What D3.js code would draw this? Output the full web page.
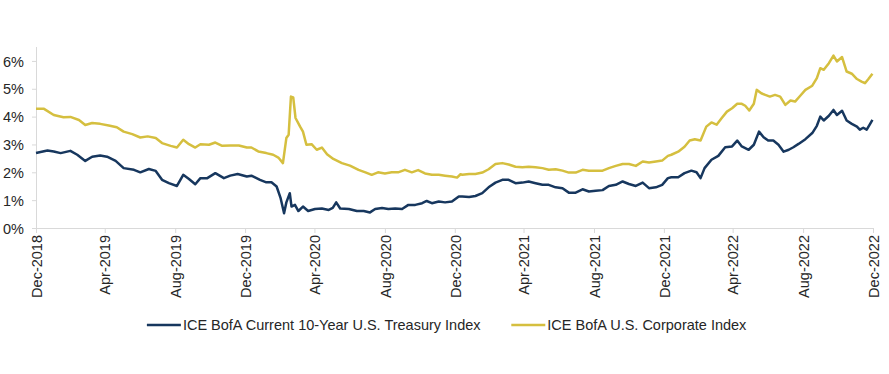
<!DOCTYPE html>
<html>
<head>
<meta charset="utf-8">
<script src="https://cdn.jsdelivr.net/npm/d3@7"></script>
<style>
  body { margin: 0; background: #fff; }
  svg { display: block; font-family: Arial, "Liberation Sans", sans-serif; }
  .axis-line { stroke: #d9d9d9; }
  .tick-label { fill: #262626; font-size: 14.5px; }
  .legend-text { fill: #262626; font-size: 14.5px; }
</style>
</head>
<body>
<svg id="chart" width="889" height="374"></svg>
<script>
// ICE BofA Current 10-Year U.S. Treasury Index (yield, %)
var treasuryDates = [
  '2018-12-31','2019-01-20','2019-01-31','2019-02-12','2019-03-01','2019-03-13','2019-03-27','2019-04-08',
  '2019-04-22','2019-05-04','2019-05-19','2019-06-02','2019-06-20','2019-07-01','2019-07-16','2019-07-28',
  '2019-08-08','2019-08-20','2019-09-03','2019-09-14','2019-09-24','2019-10-05','2019-10-14','2019-10-26',
  '2019-11-09','2019-11-24','2019-12-05','2019-12-18','2020-01-03','2020-01-11','2020-01-26','2020-02-06',
  '2020-02-15','2020-02-24','2020-03-02','2020-03-08','2020-03-12','2020-03-18','2020-03-21','2020-03-27',
  '2020-04-02','2020-04-10','2020-04-19','2020-05-01','2020-05-13','2020-05-25','2020-06-01','2020-06-07',
  '2020-06-14','2020-06-29','2020-07-13','2020-07-25','2020-08-05','2020-08-14','2020-08-26','2020-09-06',
  '2020-09-18','2020-09-30','2020-10-11','2020-10-23','2020-11-04','2020-11-12','2020-11-21','2020-12-03',
  '2020-12-14','2020-12-26','2021-01-07','2021-01-13','2021-01-25','2021-02-05','2021-02-17','2021-02-28',
  '2021-03-12','2021-03-24','2021-04-04','2021-04-16','2021-04-28','2021-05-09','2021-05-21','2021-06-02',
  '2021-06-13','2021-06-25','2021-07-07','2021-07-18','2021-07-30','2021-08-11','2021-08-22','2021-09-03',
  '2021-09-15','2021-09-26','2021-10-08','2021-10-20','2021-10-31','2021-11-12','2021-11-24','2021-12-05',
  '2021-12-17','2021-12-28','2022-01-07','2022-01-13','2022-01-25','2022-02-05','2022-02-17','2022-02-26',
  '2022-03-05','2022-03-12','2022-03-24','2022-04-05','2022-04-17','2022-04-29','2022-05-08','2022-05-16',
  '2022-05-28','2022-06-06','2022-06-15','2022-06-23','2022-07-01','2022-07-10','2022-07-19','2022-07-28',
  '2022-08-06','2022-08-14','2022-08-23','2022-09-04','2022-09-16','2022-09-24','2022-09-30','2022-10-06',
  '2022-10-15','2022-10-23','2022-10-29','2022-11-07','2022-11-15','2022-11-24','2022-12-03','2022-12-08',
  '2022-12-14','2022-12-20','2022-12-26','2022-12-30'
];
var treasuryYields = [
  2.69,2.78,2.75,2.69,2.77,2.63,2.41,2.56,
  2.60,2.56,2.41,2.15,2.09,2.00,2.12,2.05,
  1.73,1.61,1.51,1.91,1.76,1.57,1.79,1.79,
  1.97,1.79,1.88,1.94,1.85,1.88,1.73,1.64,
  1.64,1.49,1.07,0.53,0.92,1.25,0.77,0.83,
  0.61,0.77,0.61,0.68,0.70,0.65,0.72,0.92,
  0.70,0.68,0.61,0.61,0.56,0.68,0.72,0.68,
  0.70,0.68,0.83,0.83,0.89,0.97,0.89,0.95,
  0.92,0.95,1.13,1.13,1.11,1.15,1.25,1.46,
  1.63,1.73,1.73,1.61,1.63,1.67,1.61,1.55,
  1.55,1.46,1.43,1.27,1.27,1.39,1.31,1.34,
  1.36,1.51,1.55,1.67,1.58,1.51,1.63,1.43,
  1.46,1.55,1.79,1.82,1.82,1.97,2.06,2.00,
  1.79,2.15,2.45,2.59,2.90,2.93,3.14,2.93,
  2.81,2.99,3.46,3.26,3.14,3.14,2.99,2.74,
  2.81,2.90,3.02,3.19,3.41,3.67,4.00,3.86,
  4.03,4.24,4.06,4.21,3.86,3.74,3.64,3.53,
  3.60,3.53,3.74,3.88
];

// ICE BofA U.S. Corporate Index (yield, %)
var corporateDates = [
  '2018-12-31','2019-01-14','2019-01-31','2019-02-17','2019-03-01','2019-03-16','2019-03-27','2019-04-08',
  '2019-04-22','2019-05-07','2019-05-21','2019-06-02','2019-06-17','2019-07-01','2019-07-14','2019-07-28',
  '2019-08-08','2019-08-23','2019-09-03','2019-09-14','2019-09-24','2019-10-05','2019-10-14','2019-10-29',
  '2019-11-09','2019-11-21','2019-12-05','2019-12-20','2020-01-03','2020-01-11','2020-01-23','2020-02-06',
  '2020-02-18','2020-02-27','2020-03-06','2020-03-12','2020-03-16','2020-03-20','2020-03-24','2020-03-28',
  '2020-04-05','2020-04-10','2020-04-16','2020-04-25','2020-05-04','2020-05-13','2020-05-22','2020-06-02',
  '2020-06-17','2020-07-01','2020-07-16','2020-07-28','2020-08-08','2020-08-19','2020-08-31','2020-09-12',
  '2020-09-23','2020-10-05','2020-10-17','2020-10-28','2020-11-09','2020-11-21','2020-12-03','2020-12-14',
  '2020-12-26','2021-01-04','2021-01-10','2021-01-13','2021-01-25','2021-02-05','2021-02-17','2021-02-28',
  '2021-03-12','2021-03-24','2021-04-04','2021-04-16','2021-04-28','2021-05-09','2021-05-21','2021-06-02',
  '2021-06-13','2021-06-25','2021-07-07','2021-07-18','2021-07-30','2021-08-11','2021-08-22','2021-09-03',
  '2021-09-15','2021-09-26','2021-10-08','2021-10-20','2021-10-31','2021-11-12','2021-11-24','2021-12-05',
  '2021-12-17','2021-12-28','2022-01-07','2022-01-13','2022-01-25','2022-02-05','2022-02-14','2022-02-23',
  '2022-03-05','2022-03-15','2022-03-24','2022-04-02','2022-04-11','2022-04-20','2022-04-29','2022-05-08',
  '2022-05-16','2022-05-22','2022-05-29','2022-06-06','2022-06-11','2022-06-19','2022-06-26','2022-07-04',
  '2022-07-13','2022-07-22','2022-07-31','2022-08-09','2022-08-17','2022-08-26','2022-09-04','2022-09-16',
  '2022-09-24','2022-09-30','2022-10-06','2022-10-15','2022-10-23','2022-10-29','2022-11-07','2022-11-15',
  '2022-11-24','2022-12-03','2022-12-11','2022-12-17','2022-12-23','2022-12-30'
];
var corporateYields = [
  4.28,4.28,4.06,3.98,3.99,3.88,3.70,3.77,
  3.74,3.68,3.62,3.46,3.37,3.25,3.29,3.23,
  3.05,2.95,2.89,3.17,3.01,2.89,3.01,2.99,
  3.07,2.95,2.96,2.96,2.89,2.89,2.75,2.69,
  2.63,2.53,2.33,3.23,3.35,4.72,4.69,3.95,
  3.64,3.46,2.99,3.01,2.81,2.89,2.65,2.48,
  2.33,2.24,2.09,2.00,1.91,2.00,1.96,2.00,
  2.00,2.09,2.00,2.08,1.96,1.91,1.91,1.88,
  1.85,1.81,1.93,1.91,1.94,1.94,1.99,2.11,
  2.30,2.33,2.28,2.20,2.18,2.20,2.18,2.15,
  2.09,2.11,2.06,1.99,1.99,2.09,2.06,2.06,
  2.06,2.15,2.23,2.30,2.30,2.23,2.39,2.35,
  2.39,2.42,2.59,2.63,2.74,2.92,3.14,3.19,
  3.14,3.64,3.79,3.71,3.95,4.18,4.30,4.46,
  4.46,4.39,4.22,4.46,4.96,4.84,4.78,4.72,
  4.78,4.72,4.42,4.58,4.54,4.75,4.96,5.11,
  5.38,5.74,5.68,5.92,6.19,5.98,6.14,5.62,
  5.54,5.35,5.26,5.20,5.35,5.54
];

var yTicks = [0, 1, 2, 3, 4, 5, 6];
var seriesNames = ['ICE BofA Current 10-Year U.S. Treasury Index', 'ICE BofA U.S. Corporate Index'];
var seriesColors = ['#17375e', '#d5bf3f'];

(function() {
    var parseDate = d3.timeParse('%Y-%m-%d');

    function toPoints(dates, values) {
        return dates.map(function(d, i) { return { date: parseDate(d), value: values[i] }; });
    }

    var series = [
        { name: seriesNames[0], color: seriesColors[0], points: toPoints(treasuryDates, treasuryYields) },
        { name: seriesNames[1], color: seriesColors[1], points: toPoints(corporateDates, corporateYields) }
    ];

    var svg = d3.select('#chart');

    var plotLeft = 36, plotRight = 873, plotTop = 47, plotBottom = 228;

    var start = parseDate('2018-12-31'), end = parseDate('2022-12-31');
    var x = d3.scaleTime().domain([start, end]).range([plotLeft, plotRight]);
    var y = d3.scaleLinear().domain([0, 6.5]).range([plotBottom, plotTop]);

    // month-end ticks every 4 months
    var xTicks = d3.range(13).map(function(i) {
        return d3.timeDay.offset(d3.timeMonth.offset(new Date(2019, 0, 1), 4 * i), -1);
    });
    var fmt = d3.timeFormat('%b-%Y');

    // y axis
    var yAxis = svg.append('g')
        .attr('transform', 'translate(' + plotLeft + ',0)')
        .call(d3.axisLeft(y).tickValues(yTicks).tickSize(4).tickFormat(function(d) { return d + '%'; }));
    yAxis.select('.domain').attr('class', 'axis-line').attr('d', 'M0.5,' + plotBottom + 'V' + plotTop);
    yAxis.selectAll('.tick line').attr('stroke', '#d9d9d9');
    yAxis.selectAll('.tick text').attr('class', 'tick-label').attr('x', -12).attr('dy', '0.35em');

    // x axis
    var xAxis = svg.append('g')
        .attr('transform', 'translate(0,' + plotBottom + ')')
        .call(d3.axisBottom(x).tickValues(xTicks).tickSize(5).tickFormat(fmt));
    xAxis.select('.domain').attr('class', 'axis-line').attr('d', 'M' + plotLeft + ',0.5H' + plotRight);
    xAxis.selectAll('.tick line').attr('stroke', '#d9d9d9');
    xAxis.selectAll('.tick text')
        .attr('class', 'tick-label')
        .attr('transform', 'rotate(-90)')
        .attr('x', -7)
        .attr('y', 0)
        .attr('dy', '0.36em')
        .attr('text-anchor', 'end');

    svg.selectAll('.tick text').attr('fill', null);
    svg.selectAll('.domain').attr('stroke', null);

    // lines
    var line = d3.line()
        .x(function(d) { return x(d.date); })
        .y(function(d) { return y(d.value); });

    svg.append('g').selectAll('path')
        .data(series.slice().reverse())
        .enter().append('path')
        .attr('fill', 'none')
        .attr('stroke', function(d) { return d.color; })
        .attr('stroke-width', 2.5)
        .attr('stroke-linejoin', 'round')
        .attr('d', function(d) { return line(d.points); });

    // legend
    var items = svg.append('g').selectAll('g')
        .data(series)
        .enter().append('g');
    items.append('line')
        .attr('x1', 0).attr('x2', 34)
        .attr('y1', 0).attr('y2', 0)
        .attr('stroke', function(d) { return d.color; })
        .attr('stroke-width', 2.5);
    items.append('text')
        .attr('class', 'legend-text')
        .attr('x', 36)
        .attr('dy', '0.35em')
        .text(function(d) { return d.name; });

    var gap = 30, widths = [];
    items.each(function() { widths.push(this.getBBox().width); });
    var offset = 447 - (d3.sum(widths) + gap * (widths.length - 1)) / 2;
    items.attr('transform', function(d, i) {
        var tx = offset;
        offset += widths[i] + gap;
        return 'translate(' + tx + ',325)';
    });
})();
</script>
</body>
</html>
